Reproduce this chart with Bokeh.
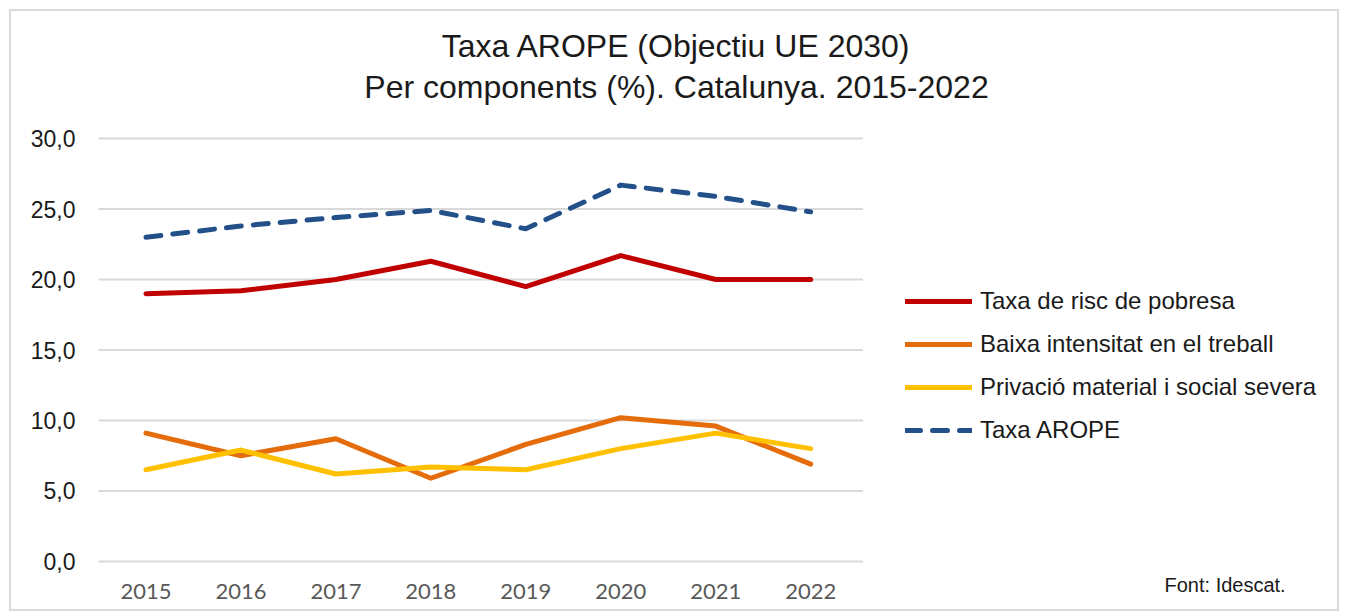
from bokeh.plotting import figure
from bokeh.models import Range1d, Legend, LegendItem, Label, FixedTicker
from bokeh.embed import file_html
from bokeh.resources import INLINE

years = [2015, 2016, 2017, 2018, 2019, 2020, 2021, 2022]
year_labels = ["2015", "2016", "2017", "2018", "2019", "2020", "2021", "2022"]
risc_pobresa = [19.0, 19.2, 20.0, 21.3, 19.5, 21.7, 20.0, 20.0]
baixa_intensitat = [9.1, 7.5, 8.7, 5.9, 8.3, 10.2, 9.6, 6.9]
privacio_material = [6.5, 7.9, 6.2, 6.7, 6.5, 8.0, 9.1, 8.0]
taxa_arope = [23.0, 23.8, 24.4, 24.9, 23.6, 26.7, 25.9, 24.8]

series_names = ["Taxa de risc de pobresa", "Baixa intensitat en el treball",
                "Privació material i social severa", "Taxa AROPE"]
y_ticks = [0, 5, 10, 15, 20, 25, 30]
y_tick_labels = ["0,0", "5,0", "10,0", "15,0", "20,0", "25,0", "30,0"]
title_text = "Taxa AROPE (Objectiu UE 2030)\nPer components (%). Catalunya. 2015-2022"
source_text = "Font: Idescat."

# plot area spans the legend region as well; the category band is 95px per year
p = figure(width=1330, height=602, output_backend="svg", toolbar_location=None,
           x_range=Range1d(years[0] - 0.5, years[0] - 0.5 + 13.09),
           y_range=Range1d(-0.15, 30.15),
           min_border_left=87, min_border_right=0, min_border_top=125,
           min_border_bottom=50, background_fill_color="white",
           border_fill_color="white")
p.styles = {"border": "2px solid #d9d9d9", "margin": "9px 0 0 9px"}
p.outline_line_color = None

# grid (limited to the years band)
p.xgrid.grid_line_color = None
p.ygrid.grid_line_color = None
p.segment(x0=years[0] - 0.53, x1=years[-1] + 0.55, y0=y_ticks, y1=y_ticks,
          line_color="#d9d9d9", line_width=2)

p.yaxis.ticker = FixedTicker(ticks=y_ticks)
p.yaxis.major_label_overrides = {t: l for t, l in zip(y_ticks, y_tick_labels)}
p.xaxis.ticker = FixedTicker(ticks=years)
p.xaxis.major_label_overrides = {y: l for y, l in zip(years, year_labels)}

for ax in (p.xaxis, p.yaxis):
    ax.axis_line_color = None
    ax.major_tick_line_color = None
    ax.minor_tick_line_color = None
    ax.major_tick_out = 0
    ax.major_tick_in = 0

p.yaxis.major_label_text_font = "Liberation Sans"
p.yaxis.major_label_text_font_size = "23px"
p.yaxis.major_label_text_color = "#1a1a1a"
p.yaxis.major_label_standoff = 23

p.xaxis.major_label_text_font = "Lato"
p.xaxis.major_label_text_font_size = "22px"
p.xaxis.major_label_text_color = "#595959"
p.xaxis.major_label_standoff = 20

colors = ["#c00000", "#e46c0a", "#ffc000", "#24508a"]
data = [risc_pobresa, baixa_intensitat, privacio_material, taxa_arope]
renderers = []
for name, vals, col in zip(series_names, data, colors):
    kw = dict(line_color=col, line_width=5, line_join="round", line_cap="round")
    if name == "Taxa AROPE":
        kw["line_dash"] = "15 12"
    r = p.line(years, vals, **kw)
    renderers.append(r)

legend = Legend(items=[LegendItem(label=n, renderers=[r]) for n, r in zip(series_names, renderers)],
                location=(807, 119), orientation="vertical",
                glyph_width=67, glyph_height=20, label_height=20, label_standoff=8,
                spacing=15, padding=0, margin=0,
                label_text_font="Liberation Sans", label_text_font_size="24px",
                label_text_color="#1a1a1a",
                border_line_color=None, background_fill_alpha=0)
p.add_layout(legend, "center")

p.add_layout(Label(x=578, y=70, x_units="screen", y_units="screen", text=title_text,
                   text_align="center", text_baseline="middle", text_line_height=1.14,
                   text_font="Liberation Sans", text_font_size="32px",
                   text_color="#1a1a1a"), "above")

p.add_layout(Label(x=1066, y=-525, x_units="screen", y_units="screen", text=source_text,
                   text_align="left", text_baseline="middle",
                   text_font="Liberation Sans", text_font_size="20px",
                   text_color="#1a1a1a"), "above")

open("out.html", "w").write(file_html(p, INLINE))
